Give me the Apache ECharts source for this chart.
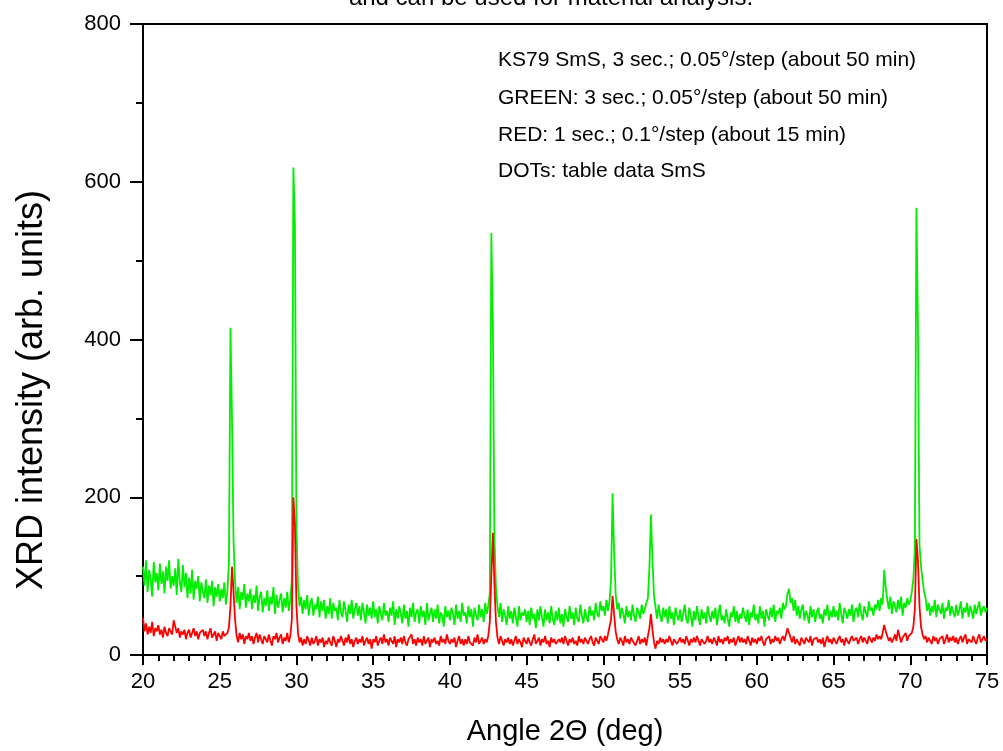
<!DOCTYPE html>
<html>
<head>
<meta charset="utf-8">
<script src="https://cdn.jsdelivr.net/npm/echarts@6/dist/echarts.min.js"></script>
<style>html,body{margin:0;padding:0;background:#fff;}#chart{width:1003px;height:751px;}</style>
</head>
<body>
<div id="chart"></div>
<script>
// Measurement grid (deg 2Theta)
const angleStart = 20;
const angleStep = 0.1;

// GREEN: 3 sec.; 0.05°/step  (one row per degree, 0.1° apart)
const greenIntensity = [
 112, 88,120, 80,108, 96, 74,118, 92,104,  // 20
  82,116, 90,106, 78,112, 94,120, 84,100,  // 21
  88,110, 76,122, 92, 80,114, 86,104, 72,  // 22
  98, 78,108, 70, 94, 84,100, 68, 92, 80,  // 23
  72, 96, 66, 88, 76, 94, 62, 86, 74, 90,  // 24
  68, 84, 72, 92, 64, 80,118,415,300,145,  // 25
  92, 66, 86, 58, 80, 70, 90, 60, 78, 68,  // 26
  84, 58, 76, 66, 88, 56, 74, 80, 54, 72,  // 27
  62, 82, 56, 74, 64, 86, 52, 76, 60, 70,  // 28
  78, 54, 72, 60, 80, 56, 70, 95,618,545,  // 29
 160, 88, 62, 74, 52, 70, 58, 76, 50, 66,  // 30
  72, 50, 64, 58, 74, 48, 68, 56, 70, 46,  // 31
  62, 52, 72, 46, 66, 56, 60, 44, 70, 54,  // 32
  48, 68, 56, 42, 64, 52, 70, 46, 58, 66,  // 33
  50, 62, 44, 66, 54, 40, 64, 50, 60, 46,  // 34
  68, 48, 58, 40, 62, 52, 44, 66, 50, 56,  // 35
  42, 60, 50, 68, 38, 58, 46, 62, 52, 40,  // 36
  64, 46, 56, 36, 60, 48, 66, 42, 54, 58,  // 37
  40, 62, 48, 56, 38, 66, 44, 52, 60, 42,  // 38
  58, 46, 64, 40, 54, 50, 36, 62, 48, 56,  // 39
  44, 60, 52, 38, 64, 46, 56, 42, 66, 50,  // 40
  54, 40, 62, 48, 58, 36, 60, 50, 44, 64,  // 41
  48, 58, 42, 66, 52, 62, 78,535,420,150,  // 42
  85, 62, 48, 66, 42, 58, 50, 38, 62, 46,  // 43
  56, 40, 60, 48, 36, 62, 44, 54, 50, 58,  // 44
  42, 56, 38, 60, 46, 52, 34, 58, 44, 62,  // 45
  48, 36, 58, 44, 54, 40, 62, 46, 38, 56,  // 46
  44, 60, 40, 52, 36, 58, 48, 42, 62, 46,  // 47
  54, 38, 60, 46, 42, 64, 50, 40, 58, 48,  // 48
  42, 62, 50, 56, 44, 66, 52, 48, 68, 56,  // 49
  62, 50, 70, 56, 68, 95,205,130, 78, 58,  // 50
  66, 46, 60, 52, 40, 62, 48, 56, 44, 64,  // 51
  50, 42, 60, 54, 46, 64, 52, 58, 66, 72,  // 52
 110,178,120, 75, 60, 46, 64, 50, 42, 60,  // 53
  48, 58, 40, 62, 46, 54, 38, 60, 50, 44,  // 54
  58, 42, 52, 64, 46, 40, 60, 50, 36, 56,  // 55
  44, 62, 48, 38, 58, 46, 54, 40, 62, 50,  // 56
  42, 56, 46, 60, 38, 52, 64, 44, 50, 40,  // 57
  58, 46, 36, 54, 48, 62, 42, 56, 40, 52,  // 58
  46, 60, 50, 42, 58, 38, 54, 48, 64, 44,  // 59
  52, 40, 62, 46, 56, 36, 58, 50, 44, 60,  // 60
  48, 64, 42, 56, 52, 60, 46, 66, 58, 62,  // 61
  78, 84, 66, 72, 56, 70, 50, 62, 46, 58,  // 62
  64, 44, 56, 50, 40, 62, 48, 58, 42, 54,  // 63
  60, 46, 52, 40, 58, 50, 64, 44, 56, 48,  // 64
  62, 48, 56, 44, 66, 52, 40, 60, 54, 46,  // 65
  58, 50, 64, 42, 56, 60, 48, 66, 52, 44,  // 66
  62, 54, 48, 68, 56, 60, 50, 64, 58, 70,  // 67
  56, 72, 64,108, 86, 70, 58, 74, 52, 68,  // 68
  62, 54, 70, 58, 74, 50, 66, 60, 72, 64,  // 69
  68, 80, 96,135,567,415,140,112, 95, 80,  // 70
  72, 56, 66, 50, 62, 54, 70, 48, 64, 58,  // 71
  52, 66, 46, 60, 56, 70, 50, 62, 54, 48,  // 72
  64, 50, 58, 68, 46, 60, 54, 66, 48, 62,  // 73
  56, 46, 64, 52, 60, 68, 50, 58, 62, 54,  // 74
  60                                       // 75
];

// RED: 1 sec.; 0.1°/step
const redIntensity = [
  47, 30, 40, 26, 36, 28, 42, 24, 34, 30,  // 20
  38, 26, 32, 22, 36, 28, 24, 34, 30, 26,  // 21
  44, 36, 28, 34, 22, 30, 26, 32, 20, 28,  // 22
  32, 22, 28, 34, 24, 30, 20, 28, 26, 32,  // 23
  24, 30, 20, 28, 34, 22, 26, 30, 18, 28,  // 24
  26, 20, 30, 24, 22, 28, 35, 62,112, 80,  // 25
  45, 24, 16, 28, 20, 26, 14, 24, 20, 28,  // 26
  18, 24, 14, 22, 28, 16, 26, 20, 14, 24,  // 27
  22, 16, 26, 18, 12, 24, 20, 28, 16, 22,  // 28
  26, 14, 22, 18, 28, 16, 24, 45,200,165,  // 29
  62, 28, 16, 22, 12, 20, 14, 24, 18, 12,  // 30
  22, 14, 18, 24, 12, 20, 16, 22, 10, 18,  // 31
  14, 22, 16, 12, 24, 18, 10, 20, 16, 24,  // 32
  18, 12, 22, 16, 26, 14, 20, 10, 18, 22,  // 33
  14, 20, 16, 24, 12, 18, 22, 14, 20,  8,  // 34
  20, 16, 24, 12, 18, 22, 14, 26, 16, 20,  // 35
  12, 22, 18, 14, 24, 10, 20, 16, 22, 14,  // 36
  24, 16, 12, 20, 18, 26, 14, 20, 12, 22,  // 37
  16, 20, 12, 24, 14, 18, 22, 10, 20, 16,  // 38
  22, 14, 18, 12, 24, 16, 20, 14, 26, 18,  // 39
  14, 20, 16, 22, 10, 18, 24, 14, 20, 12,  // 40
  20, 14, 24, 16, 18, 12, 22, 16, 26, 14,  // 41
  18, 22, 14, 20, 16, 24, 42,100,155, 90,  // 42
  42, 22, 14, 24, 18, 12, 20, 16, 22, 14,  // 43
  20, 12, 18, 24, 14, 20, 16, 10, 22, 18,  // 44
  14, 22, 16, 12, 20, 26, 14, 18, 22, 12,  // 45
  20, 16, 24, 14, 18, 10, 22, 16, 20, 14,  // 46
  12, 20, 16, 22, 14, 24, 18, 12, 20, 16,  // 47
  22, 14, 18, 12, 24, 16, 20, 14, 22, 18,  // 48
  14, 20, 24, 16, 12, 22, 18, 14, 24, 20,  // 49
  16, 24, 18, 26, 28, 45, 75, 52, 30, 20,  // 50
  14, 22, 18, 12, 24, 16, 20, 14, 22, 18,  // 51
  20, 12, 18, 24, 14, 20, 16, 22, 12, 24,  // 52
  34, 52, 32, 16,  8, 18, 14, 22, 16, 20,  // 53
  14, 20, 16, 24, 18, 12, 20, 22, 14, 18,  // 54
  22, 16, 20, 14, 24, 18, 12, 20, 16, 22,  // 55
  16, 24, 18, 12, 20, 22, 14, 18, 24, 16,  // 56
  20, 14, 22, 18, 12, 24, 16, 20, 14, 22,  // 57
  18, 24, 14, 20, 16, 22, 12, 18, 24, 16,  // 58
  22, 16, 20, 14, 24, 18, 12, 22, 16, 20,  // 59
  14, 22, 18, 24, 16, 12, 20, 18, 24, 14,  // 60
  20, 16, 24, 18, 22, 14, 20, 24, 18, 26,  // 61
  34, 28, 22, 16, 24, 14, 20, 18, 12, 22,  // 62
  18, 14, 22, 20, 16, 24, 12, 20, 18, 22,  // 63
  16, 20, 14, 22, 10, 18, 24, 16, 20, 14,  // 64
  22, 18, 14, 20, 24, 16, 20, 12, 22, 18,  // 65
  14, 20, 24, 18, 16, 22, 14, 20, 24, 16,  // 66
  22, 18, 14, 24, 20, 16, 22, 18, 26, 20,  // 67
  24, 20, 28, 38, 30, 24, 18, 22, 16, 20,  // 68
  26, 18, 32, 24, 16, 22, 20, 28, 18, 24,  // 69
  22, 28, 36, 58,147,120, 62, 36, 26, 20,  // 70
  24, 16, 22, 18, 14, 24, 18, 22, 14, 20,  // 71
  18, 24, 14, 20, 26, 16, 22, 18, 24, 16,  // 72
  22, 14, 20, 24, 16, 22, 26, 14, 20, 18,  // 73
  16, 24, 18, 14, 22, 26, 16, 20, 24, 18,  // 74
  20                                       // 75
];

const xTicks = [20, 25, 30, 35, 40, 45, 50, 55, 60, 65, 70, 75];
const yTicks = [0, 200, 400, 600, 800];

const titleText = 'and can be used for material analysis.';
const noteLines = [
  'KS79 SmS, 3 sec.; 0.05°/step (about 50 min)',
  'GREEN: 3 sec.; 0.05°/step (about 50 min)',
  'RED: 1 sec.; 0.1°/step (about 15 min)',
  'DOTs: table data SmS'
];
const xAxisName = 'Angle 2\u0398 (deg)';
const yAxisName = 'XRD intensity (arb. units)';

function pairs(vals) {
  return vals.map((v, i) => [+(angleStart + i * angleStep).toFixed(2), v]);
}

const FONT = 'Liberation Sans, Arial, sans-serif';
const chart = echarts.init(document.getElementById('chart'), null, {renderer: 'canvas'});

const graphics = [
  {type: 'text', style: {x: 551, y: -14, text: titleText, font: '24px ' + FONT, fill: '#000', align: 'center', verticalAlign: 'top', textAlign: 'center', textVerticalAlign: 'top'}},
  {type: 'text', rotation: Math.PI / 2, x: 32, y: 390, style: {x: 0, y: 0, text: yAxisName, font: '36px ' + FONT, fill: '#000', align: 'center', verticalAlign: 'middle', textAlign: 'center', textVerticalAlign: 'middle'}}
];
const noteY = [60, 98, 135, 171];
noteLines.forEach((t, i) => {
  graphics.push({type: 'text', style: {x: 498, y: noteY[i], text: t, font: '21px ' + FONT, fill: '#000', align: 'left', verticalAlign: 'middle', textAlign: 'left', textVerticalAlign: 'middle'}});
});

chart.setOption({
  animation: false,
  backgroundColor: '#fff',
  grid: {left: 143, right: 16, top: 24, bottom: 94, show: true, borderColor: '#000', borderWidth: 2, backgroundColor: 'transparent'},
  xAxis: {
    type: 'value', min: xTicks[0], max: xTicks[xTicks.length - 1], interval: 5,
    name: xAxisName, nameLocation: 'middle', nameGap: 62,
    nameTextStyle: {fontSize: 29, fontFamily: FONT, color: '#000'},
    axisLine: {show: true, onZero: false, lineStyle: {color: '#000', width: 2}},
    axisTick: {show: true, length: 10, lineStyle: {color: '#000', width: 2}},
    minorTick: {show: true, splitNumber: 5, length: 6, lineStyle: {color: '#000', width: 2}},
    axisLabel: {fontSize: 22, fontFamily: FONT, color: '#000', margin: 16},
    splitLine: {show: false}
  },
  yAxis: {
    type: 'value', min: yTicks[0], max: yTicks[yTicks.length - 1], interval: 200,
    axisLine: {show: true, lineStyle: {color: '#000', width: 2}},
    axisTick: {show: true, length: 13, lineStyle: {color: '#000', width: 2}},
    minorTick: {show: true, splitNumber: 2, length: 7, lineStyle: {color: '#000', width: 2}},
    axisLabel: {fontSize: 22, fontFamily: FONT, color: '#000', margin: 22},
    splitLine: {show: false}
  },
  graphic: graphics,
  series: [
    {name: 'GREEN', type: 'line', data: pairs(greenIntensity), showSymbol: false, symbol: 'none',
     lineStyle: {color: '#00ee00', width: 1.8}, z: 2},
    {name: 'RED', type: 'line', data: pairs(redIntensity), showSymbol: false, symbol: 'none',
     lineStyle: {color: '#ff0000', width: 1.8}, z: 3}
  ]
});
</script>
</body>
</html>
